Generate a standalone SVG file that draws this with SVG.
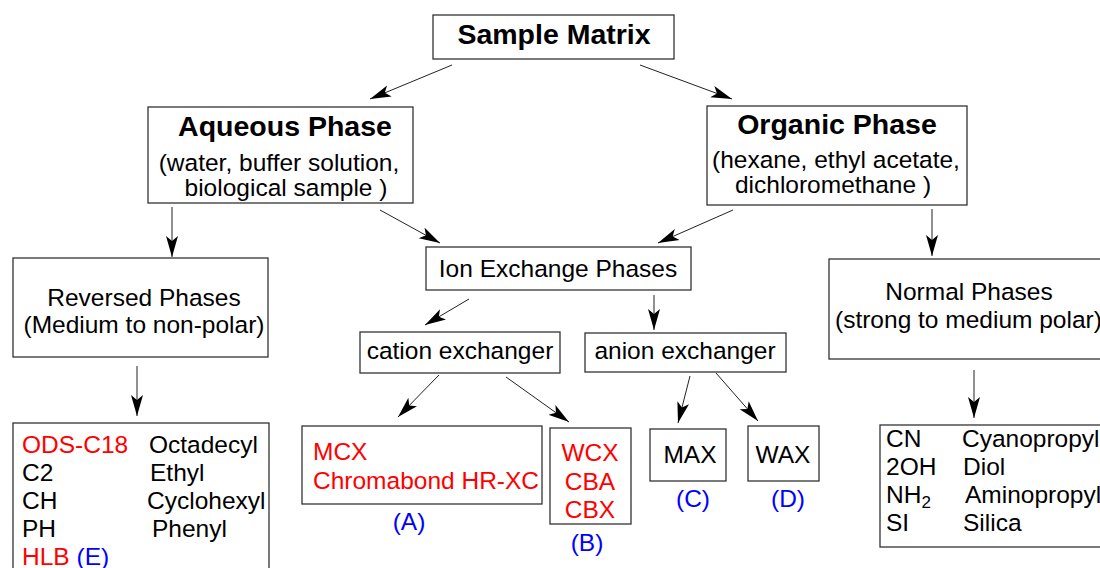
<svg xmlns="http://www.w3.org/2000/svg" width="1100" height="568" viewBox="0 0 1100 568">
<defs>
<style>
.box{fill:#fff;stroke:#333;stroke-width:1.3}
.t{font-family:"Liberation Sans",Arial,sans-serif;font-size:24.5px;fill:#000}
.b{font-family:"Liberation Sans",Arial,sans-serif;font-size:28.5px;font-weight:bold;fill:#000}
.m{text-anchor:middle}
.r{fill:#ff0000}
.bl{fill:#0000ff}
.c line{stroke:#222;stroke-width:1;marker-end:url(#ah)}
</style>
<marker id="ah" markerUnits="userSpaceOnUse" markerWidth="24" markerHeight="14" viewBox="0 -7 24 14" refX="21" refY="0" orient="auto">
<path d="M0,-6 L21,0 L0,6 L5,0 z" fill="#000"/>
</marker>
</defs>
<rect width="1100" height="568" fill="#fff"/>
<g id="connectors" class="c">
<line x1="452" y1="65" x2="370" y2="99"/>
<line x1="640" y1="65" x2="732" y2="99"/>
<line x1="172" y1="207" x2="172" y2="257"/>
<line x1="380" y1="210" x2="440" y2="243"/>
<line x1="733" y1="210" x2="658" y2="243"/>
<line x1="932" y1="209" x2="932" y2="256"/>
<line x1="137" y1="366" x2="137" y2="416"/>
<line x1="469" y1="299" x2="425" y2="325"/>
<line x1="654" y1="295" x2="654" y2="330"/>
<line x1="439" y1="375" x2="398" y2="417"/>
<line x1="506" y1="377" x2="569" y2="422"/>
<line x1="690" y1="376" x2="678" y2="423"/>
<line x1="716" y1="373" x2="758" y2="421"/>
<line x1="974" y1="370" x2="974" y2="418"/>
</g>
<g id="sample-matrix">
<rect class="box" x="433" y="15" width="241" height="44"/>
<text class="b m" x="554" y="44">Sample Matrix</text>
</g>
<g id="aqueous-phase">
<rect class="box" x="148" y="107" width="265" height="96"/>
<text class="b m" x="285" y="136">Aqueous Phase</text>
<text class="t m" x="279" y="171">(water, buffer solution,</text>
<text class="t m" x="286" y="196">biological sample )</text>
</g>
<g id="organic-phase">
<rect class="box" x="707" y="106" width="260" height="99"/>
<text class="b m" x="837" y="134">Organic Phase</text>
<text class="t m" x="836" y="168">(hexane, ethyl acetate,</text>
<text class="t m" x="833" y="193">dichloromethane )</text>
</g>
<g id="reversed-phases">
<rect class="box" x="13" y="258" width="255" height="99"/>
<text class="t m" x="144" y="306">Reversed Phases</text>
<text class="t m" x="144" y="333">(Medium to non-polar)</text>
</g>
<g id="ion-exchange">
<rect class="box" x="426" y="247" width="265" height="43"/>
<text class="t m" x="558" y="277">Ion Exchange Phases</text>
</g>
<g id="normal-phases">
<rect class="box" x="829" y="259" width="280" height="100"/>
<text class="t m" x="969" y="300">Normal Phases</text>
<text class="t" x="835" y="328">(strong to medium polar)</text>
</g>
<g id="cation-exchanger">
<rect class="box" x="360" y="332" width="200" height="41"/>
<text class="t m" x="460" y="359">cation exchanger</text>
</g>
<g id="anion-exchanger">
<rect class="box" x="585" y="333" width="201" height="39"/>
<text class="t m" x="685" y="359">anion exchanger</text>
</g>
<g id="reversed-list">
<rect class="box" x="13" y="423" width="256" height="160"/>
<text class="t r" x="22" y="453">ODS-C18</text>
<text class="t" x="149" y="453">Octadecyl</text>
<text class="t" x="22" y="481">C2</text>
<text class="t" x="150" y="481">Ethyl</text>
<text class="t" x="22" y="509">CH</text>
<text class="t" x="147" y="509">Cyclohexyl</text>
<text class="t" x="22" y="537">PH</text>
<text class="t" x="152" y="537">Phenyl</text>
<text class="t" x="22" y="565"><tspan class="r">HLB</tspan> <tspan class="bl">(E)</tspan></text>
</g>
<g id="mcx">
<rect class="box" x="302" y="426" width="240" height="78"/>
<text class="t r" x="313" y="460">MCX</text>
<text class="t r" x="313" y="489">Chromabond HR-XC</text>
<text class="t bl m" x="409" y="530">(A)</text>
</g>
<g id="wcx">
<rect class="box" x="550" y="428" width="81" height="96"/>
<text class="t r m" x="590" y="461">WCX</text>
<text class="t r m" x="590" y="490">CBA</text>
<text class="t r m" x="590" y="518">CBX</text>
<text class="t bl m" x="587" y="551">(B)</text>
</g>
<g id="max">
<rect class="box" x="650" y="429" width="76" height="52"/>
<text class="t m" x="690" y="463">MAX</text>
<text class="t bl m" x="693" y="507">(C)</text>
</g>
<g id="wax">
<rect class="box" x="748" y="426" width="71" height="55"/>
<text class="t m" x="783" y="463">WAX</text>
<text class="t bl m" x="788" y="507">(D)</text>
</g>
<g id="normal-list">
<rect class="box" x="880" y="425" width="230" height="122"/>
<text class="t" x="886" y="447">CN</text>
<text class="t" x="962" y="447">Cyanopropyl</text>
<text class="t" x="886" y="475">2OH</text>
<text class="t" x="963" y="475">Diol</text>
<text class="t" x="886" y="503">NH<tspan font-size="17" dy="5">2</tspan></text>
<text class="t" x="965" y="503">Aminopropyl</text>
<text class="t" x="886" y="531">SI</text>
<text class="t" x="963" y="531">Silica</text>
</g>
</svg>
